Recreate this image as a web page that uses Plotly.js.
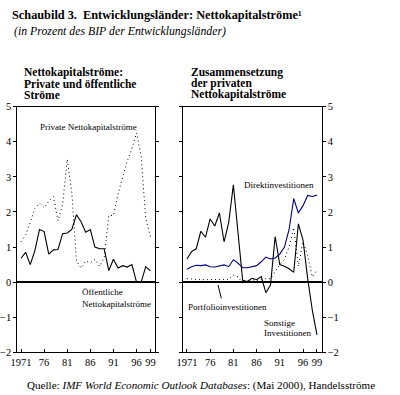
<!DOCTYPE html>
<html>
<head>
<meta charset="utf-8">
<script src="https://cdn.plot.ly/plotly-3.0.1.min.js"></script>
<style>html,body{margin:0;padding:0;background:#fff;}#chart{width:400px;height:395px;}</style>
</head>
<body>
<div id="chart"></div>
<script>
// Years 1971..1999
const years = [1971,1972,1973,1974,1975,1976,1977,1978,1979,1980,1981,1982,1983,1984,1985,1986,1987,1988,1989,1990,1991,1992,1993,1994,1995,1996,1997,1998,1999];

// Left panel: private and public net capital flows (% of GDP)
const privateFlows = [1.15,1.35,1.7,2.1,2.25,2.12,2.3,2.44,1.75,2.2,3.5,2.55,0.6,0.4,0.6,0.55,0.65,0.45,0.7,1.9,1.9,2.5,3.0,3.45,3.8,4.25,3.6,1.8,1.3];
const publicFlows  = [0.68,0.85,0.5,0.9,1.5,1.44,0.8,0.92,0.93,1.38,1.4,1.5,1.92,1.72,1.42,1.5,1.0,0.95,0.95,0.33,0.65,0.4,0.47,0.43,0.5,0.0,0.0,0.44,0.32];

// Right panel: composition of private net capital flows
const direct    = [0.37,0.44,0.48,0.47,0.49,0.44,0.43,0.46,0.49,0.44,0.64,0.54,0.41,0.41,0.44,0.47,0.58,0.71,0.66,0.69,0.8,1.0,1.5,2.38,1.97,2.18,2.47,2.44,2.48];
const portfolio = [0.1,0.1,0.08,0.07,0.07,0.07,0.06,0.07,0.07,0.08,0.2,0.15,-0.03,0.0,0.07,0.05,0.07,0.1,0.1,0.3,0.5,0.65,1.0,1.55,0.45,1.15,0.75,0.15,0.35];
const other     = [0.66,0.87,0.95,1.45,1.28,1.8,1.6,1.97,1.15,1.7,2.77,1.5,0.05,0.02,0.11,0.07,0.16,-0.3,-0.08,1.3,0.5,0.45,0.38,0.28,1.66,1.2,0.1,-0.8,-1.5];

const tickYears = [1971,1976,1981,1986,1991,1996,1999];
const tickLabels = ['1971','76','81','86','91','96','99'];

const serif = 'Liberation Serif, Times New Roman, serif';
const dotted = '1px,3px';

const traces = [
  {x: years, y: privateFlows, xaxis:'x', yaxis:'y', mode:'lines', line:{color:'#000', width:1, dash:dotted}},
  {x: years, y: publicFlows, xaxis:'x', yaxis:'y', mode:'lines', line:{color:'#000', width:1.1}},
  {x: years, y: portfolio, xaxis:'x2', yaxis:'y2', mode:'lines', line:{color:'#000', width:1, dash:dotted}},
  {x: years, y: other, xaxis:'x2', yaxis:'y2', mode:'lines', line:{color:'#000', width:1.1}},
  {x: years, y: direct, xaxis:'x2', yaxis:'y2', mode:'lines', line:{color:'#000080', width:1.1}}
];

const xBase = {
  range:[1970.2, 2000.0], tickvals: tickYears, ticktext: tickLabels,
  ticks:'inside', ticklen:3, tickcolor:'#000', showline:true, linecolor:'#000', linewidth:1,
  mirror:true, showgrid:false, zeroline:false, tickfont:{family:serif, size:10.5, color:'#000'}
};
const yBase = {
  range:[-2,5], dtick:1, tick0:0, ticks:'outside', ticklen:3, tickcolor:'#000',
  showline:true, linecolor:'#000', linewidth:1, mirror:'ticks', showgrid:false,
  zeroline:true, zerolinecolor:'#000', zerolinewidth:1.5,
  tickfont:{family:serif, size:10.5, color:'#000'}
};

const yDom = [0.108, 0.730];
const layout = {
  width:400, height:395, margin:{l:0,r:0,t:0,b:0}, showlegend:false,
  paper_bgcolor:'#fff', plot_bgcolor:'#fff',
  title:{text:'<b>Schaubild 3.\u00a0 Entwicklungsländer: Nettokapitalströme¹</b>', x:0.03, xanchor:'left', y:0.962, yanchor:'middle', font:{family:serif, size:12.3, color:'#000'}},
  xaxis: Object.assign({}, xBase, {domain:[0.0433,0.3875], anchor:'y'}),
  yaxis: Object.assign({}, yBase, {domain:yDom, anchor:'x', side:'left'}),
  xaxis2: Object.assign({}, xBase, {domain:[0.458,0.804], anchor:'y2'}),
  yaxis2: Object.assign({}, yBase, {domain:yDom, anchor:'x2', side:'right'}),
  shapes:[
    {type:'line', xref:'x2', yref:'y2', x0:1977.7, y0:-0.08, x1:1978.4, y1:-0.46, line:{color:'#000', width:1}}
  ],
  annotations:[]
};

function ann(text, x, y, opts) {
  return Object.assign({text:text, x:x, y:y, showarrow:false, font:{family:serif, size:9, color:'#000'}}, opts);
}
const A = layout.annotations;
A.push(ann('<i>(in Prozent des BIP der Entwicklungsländer)</i>', 0.03, 0.922, {xref:'paper', yref:'paper', xanchor:'left', yanchor:'middle', font:{family:serif, size:11.8, color:'#000'}}));
// panel titles
const pt = {xref:'paper', yref:'paper', xanchor:'left', yanchor:'middle', font:{family:serif, size:11.5, color:'#000'}};
A.push(ann('<b>Nettokapitalströme:</b>', 0.055, 0.8165, pt));
A.push(ann('<b>Private und öffentliche</b>', 0.055, 0.7886, pt));
A.push(ann('<b>Ströme</b>', 0.055, 0.7595, pt));
A.push(ann('<b>Zusammensetzung</b>', 0.473, 0.8165, pt));
A.push(ann('<b>der privaten</b>', 0.473, 0.7886, pt));
A.push(ann('<b>Nettokapitalströme</b>', 0.473, 0.7595, pt));
// series labels
A.push(ann('Private Nettokapitalströme', 1985.7, 4.41, {xref:'x', yref:'y', xanchor:'center', yanchor:'middle'}));
A.push(ann('Öffentliche', 1983.8, -0.27, {xref:'x', yref:'y', xanchor:'left', yanchor:'middle'}));
A.push(ann('Nettokapitalströme', 1983.8, -0.63, {xref:'x', yref:'y', xanchor:'left', yanchor:'middle'}));
A.push(ann('Direktinvestitionen', 1990.85, 2.77, {xref:'x2', yref:'y2', xanchor:'center', yanchor:'middle'}));
A.push(ann('Portfolioinvestitionen', 1979.7, -0.7, {xref:'x2', yref:'y2', xanchor:'center', yanchor:'middle'}));
A.push(ann('Sonstige', 1987.1, -1.17, {xref:'x2', yref:'y2', xanchor:'left', yanchor:'middle'}));
A.push(ann('Investitionen', 1987.1, -1.45, {xref:'x2', yref:'y2', xanchor:'left', yanchor:'middle'}));
// source
A.push(ann('Quelle: <i>IMF World Economic Outlook Databases</i>: (Mai 2000), Handelsströme', 0.0625, 0.0253, {xref:'paper', yref:'paper', xanchor:'left', yanchor:'middle', font:{family:serif, size:11.1, color:'#000'}}));

Plotly.newPlot('chart', traces, layout, {staticPlot:true, displayModeBar:false});
</script>
</body>
</html>
